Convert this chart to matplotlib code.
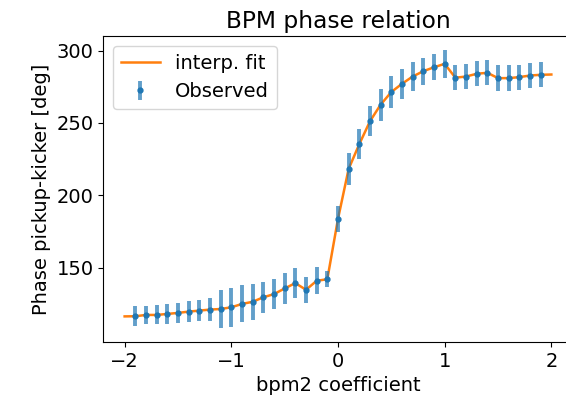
import matplotlib
matplotlib.use("Agg")
import matplotlib.pyplot as plt

plt.rcParams['font.size'] = 14

obs_x = [-1.9, -1.8, -1.7, -1.6, -1.5, -1.4, -1.3, -1.2, -1.1, -1.0,
         -0.9, -0.8, -0.7, -0.6, -0.5, -0.4, -0.3, -0.2, -0.1, 0.0,
         0.1, 0.2, 0.3, 0.4, 0.5, 0.6, 0.7, 0.8, 0.9, 1.0,
         1.1, 1.2, 1.3, 1.4, 1.5, 1.6, 1.7, 1.8, 1.9]
obs_y = [116.4, 117.3, 117.3, 118.0, 118.7, 119.6, 120.3, 121.0, 121.4, 122.6,
         124.9, 126.4, 129.5, 131.7, 135.6, 139.3, 134.7, 140.9, 142.0, 183.7,
         218.3, 235.4, 251.2, 262.7, 271.4, 277.1, 282.1, 285.8, 288.5, 290.9,
         281.3, 282.1, 284.0, 284.7, 281.0, 281.0, 281.7, 282.8, 283.3]
obs_err = [6.9, 6.5, 6.6, 7.1, 7.1, 7.4, 7.5, 7.9, 13.2, 13.5,
           12.8, 12.6, 10.8, 10.5, 10.5, 10.6, 8.8, 9.2, 5.4, 8.9,
           11.1, 10.3, 10.5, 11.0, 10.9, 10.3, 10.3, 9.4, 8.9, 9.6,
           8.6, 8.6, 8.7, 8.5, 9.2, 9.2, 8.6, 8.6, 8.6]

fit_x = [-2.0] + obs_x + [2.0]
fit_y = [116.3] + obs_y + [283.5]

fig = plt.figure(figsize=(5.66, 3.97), dpi=100)
ax = fig.add_axes([0.1825, 0.1385, 0.8293, 0.7708])

ax.plot(fit_x, fit_y, color='#ff7f0e', lw=1.8, label='interp. fit')
cont = ax.errorbar(obs_x, obs_y, yerr=obs_err, fmt='.', color='#1f77b4',
                   markersize=7, elinewidth=2.8, label='Observed')
for c in cont[2]:
    c.set_alpha(0.7)

ax.set_title('BPM phase relation')
ax.set_xlabel('bpm2 coefficient')
ax.set_ylabel('Phase pickup-kicker [deg]')
ax.set_xticks([-2, -1, 0, 1, 2])
ax.set_yticks([150, 200, 250, 300])
ax.legend(loc='upper left')

fig.savefig('out.png', dpi=100)
